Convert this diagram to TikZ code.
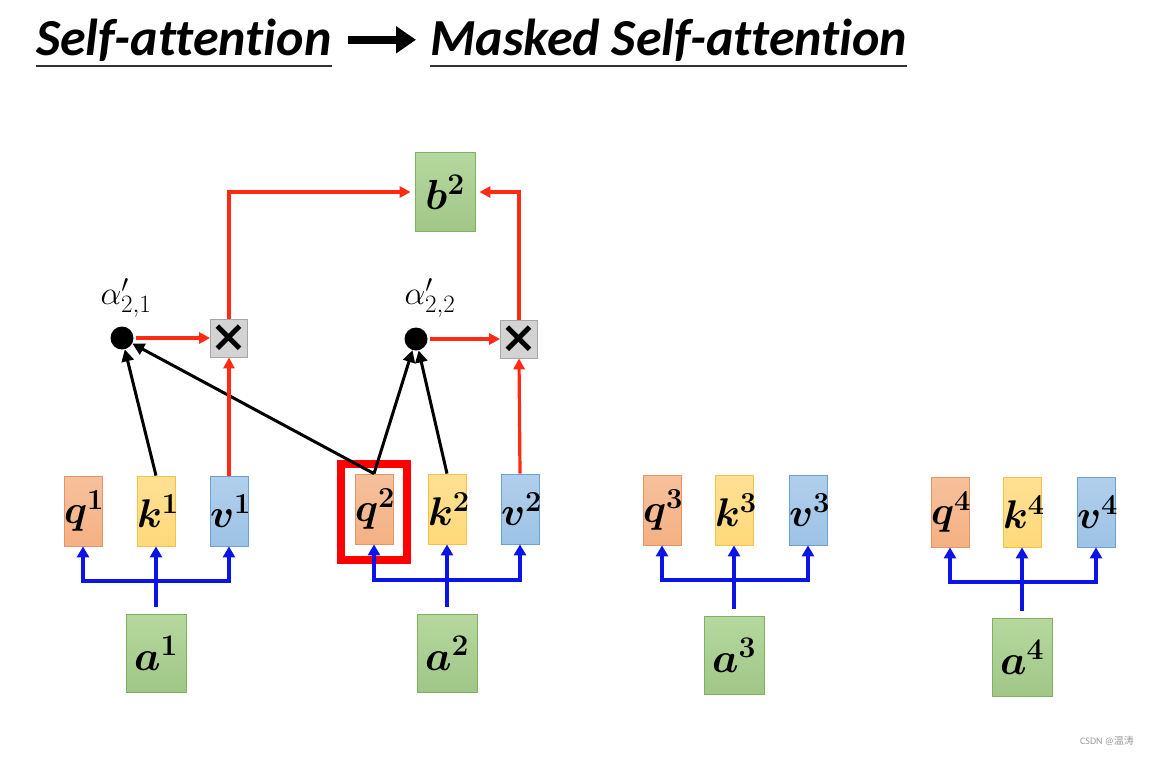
\RequirePackage{fix-cm}
\documentclass[tikz,border=0pt]{standalone}
\usepackage{fontspec}
\setmainfont{Carlito}[Ligatures=NoCommon]
\newfontfamily\cjkfont{Noto Sans CJK SC}
\newfontfamily\symfont{DejaVu Sans}
\usetikzlibrary{arrows.meta}
\DeclareMathSizes{40}{40}{29}{20}
\DeclareMathSizes{42}{42}{30}{20}
\DeclareMathSizes{33}{33}{25}{18}

\definecolor{qfill}{HTML}{F4B183}
\definecolor{qline}{HTML}{E8926A}
\definecolor{kfill}{HTML}{FFD97A}
\definecolor{kline}{HTML}{F5C342}
\definecolor{vfill}{HTML}{9DC3E6}
\definecolor{vline}{HTML}{6FA0D4}
\definecolor{afill}{HTML}{A9D18E}
\definecolor{aline}{HTML}{7FB062}
\definecolor{mfill}{HTML}{D3D3D3}
\definecolor{arrred}{HTML}{FF2A12}
\definecolor{arrblue}{HTML}{0A14E6}

\tikzset{
  vecbox/.style={draw, line width=0.8pt, text width=38pt, align=center, minimum height=70pt, inner sep=0pt,
    font=\fontsize{40}{40}\selectfont\boldmath},
  qbox/.style={vecbox, draw=qline, top color=qfill!80!white, bottom color=qfill},
  kbox/.style={vecbox, draw=kline, top color=kfill!80!white, bottom color=kfill},
  vbox/.style={vecbox, draw=vline, top color=vfill!80!white, bottom color=vfill},
  abox/.style={vecbox, draw=aline, top color=afill!85!white, bottom color=afill!95!black,
    text width=60pt, minimum height=78pt, font=\fontsize{42}{42}\selectfont\boldmath},
  mulbox/.style={draw=gray!70, line width=0.8pt, fill=mfill, minimum width=37pt, minimum height=38pt,
    inner sep=0pt, font=\fontsize{44}{44}\selectfont\symfont\bfseries},
  dot/.style={circle, fill=black, minimum size=23pt, inner sep=0pt},
  wlabel/.style={font=\fontsize{33}{33}\selectfont},
  blueline/.style={draw=arrblue, line width=3.4pt},
  bluearrow/.style={blueline, -{Triangle[length=11pt,width=12pt]}},
  redarrow/.style={draw=arrred, line width=3.2pt, -{Triangle[length=11pt,width=11pt]}},
  blackarrow/.style={draw=black, line width=3pt, -{Triangle[length=12pt,width=12pt]}},
  titletext/.style={anchor=base west, inner sep=0pt, font=\fontsize{52}{52}\selectfont\bfseries\itshape},
  uline/.style={draw=black!80, line width=1.2pt},
}

\begin{document}
\begin{tikzpicture}[x=1pt,y=-1pt]
\useasboundingbox (0,0) rectangle (1156,756);

% title
\node[titletext] (t1) at (36,55) {Self-attention};
\node[titletext] (t2) at (430,55) {Masked Self-attention};
\draw[uline] ([yshift=-11pt]t1.base west) -- ([yshift=-11pt]t1.base east);
\draw[uline] ([yshift=-11pt]t2.base west) -- ([yshift=-11pt]t2.base east);
\draw[line width=8pt, -{Triangle[length=20pt,width=26pt]}, shorten <=16pt, shorten >=14pt] (t1) -- (t2);

% inputs
\node[abox] (a1) at (156,653) {$a^1$};
\node[abox] (a2) at (447,653) {$a^2$};
\node[abox] (a3) at (734,655) {$a^3$};
\node[abox] (a4) at (1022,657) {$a^4$};

% q k v
\node[qbox] (q1) at (83,511) {$q^1$};
\node[kbox] (k1) at (156,511) {$k^1$};
\node[vbox] (v1) at (229,511) {$v^1$};
\node[qbox] (q2) at (374,509) {$q^2$};
\node[kbox] (k2) at (447,509) {$k^2$};
\node[vbox] (v2) at (520,509) {$v^2$};
\node[qbox] (q3) at (662,510) {$q^3$};
\node[kbox] (k3) at (734,510) {$k^3$};
\node[vbox] (v3) at (808,510) {$v^3$};
\node[qbox] (q4) at (950,512) {$q^4$};
\node[kbox] (k4) at (1022,512) {$k^4$};
\node[vbox] (v4) at (1096,512) {$v^4$};

% highlight
\node[draw=red, line width=8pt, minimum width=66pt, minimum height=96pt, inner sep=0pt] (f2) at (374,512) {};

% a -> q k v
\coordinate (j1) at (156,581);
\coordinate (j2) at (447,580);
\coordinate (j3) at (734,580);
\coordinate (j4) at (1022,582);
\foreach \i in {1,...,4}{
  \draw[blueline, shorten <=7pt] (a\i.north) -- (j\i);
  \draw[bluearrow] (j\i) -| (q\i.south);
  \draw[bluearrow] (j\i) -- (k\i.south);
  \draw[bluearrow] (j\i) -| (v\i.south);
}

% attention scores
\node[dot] (d1) at (122,338) {};
\node[dot] (d2) at (416,339) {};
\node[wlabel] (l1) at (126,298) {$\alpha'_{2,1}$};
\node[wlabel] (l2) at (430,298) {$\alpha'_{2,2}$};
\draw[blackarrow] (k1.north) -- (d1);
\draw[blackarrow] (q2.north) -- (d1);
\draw[blackarrow] (q2.north) -- (d2);
\draw[blackarrow] (k2.north) -- (d2);

% weighted sum
\node[mulbox] (m1) at (229,338) {×};
\node[mulbox] (m2) at (519,339) {×};
\node[abox, minimum height=79pt] (b2) at (445,192) {$b^2$};
\draw[redarrow, shorten <=2pt] (d1) -- (m1);
\draw[redarrow, shorten <=2pt] (d2) -- (m2);
\draw[redarrow] (v1.north) -- (m1.south);
\draw[redarrow] (v2.north) -- (m2.south);
\draw[redarrow, shorten >=4pt] (m1.north) |- (b2.west);
\draw[redarrow, shorten >=4pt] (m2.north) |- (b2.east);

% watermark
\node[text=gray!80, font=\fontsize{10}{10}\selectfont] (wm) at (1107,741) {CSDN @{\cjkfont 温涛}};

\end{tikzpicture}
\end{document}
